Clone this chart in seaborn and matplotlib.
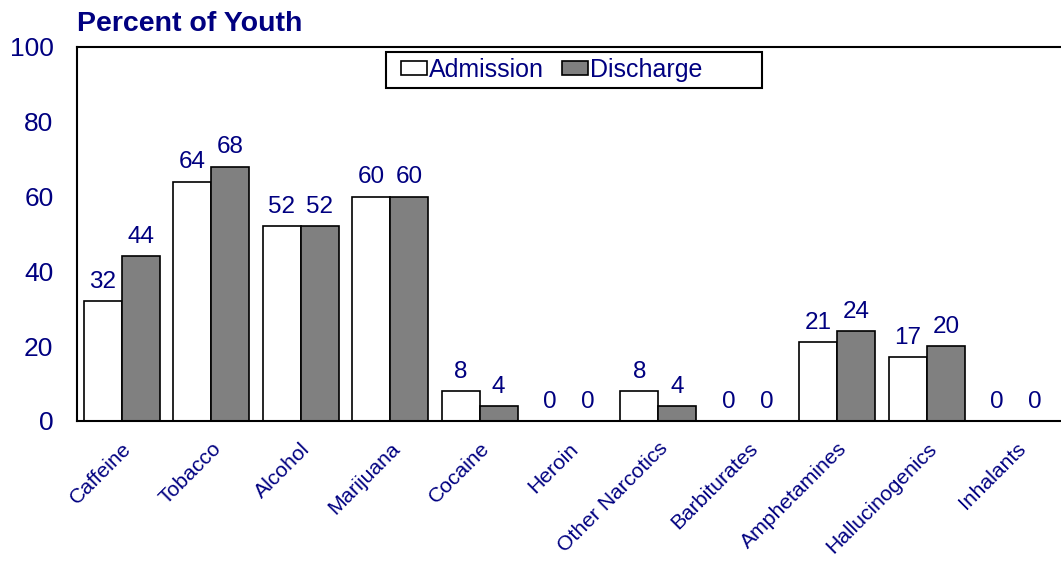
import matplotlib
matplotlib.use("Agg")
import matplotlib.pyplot as plt
from matplotlib.patches import Rectangle
import pandas as pd
import seaborn as sns

categories = ["Caffeine", "Tobacco", "Alcohol", "Marijuana", "Cocaine", "Heroin",
              "Other Narcotics", "Barbiturates", "Amphetamines", "Hallucinogenics", "Inhalants"]
admission = [32, 64, 52, 60, 8, 0, 8, 0, 21, 17, 0]
discharge = [44, 68, 52, 60, 4, 0, 4, 0, 24, 20, 0]
y_ticks = [0, 20, 40, 60, 80, 100]

navy = "#000080"

df = pd.DataFrame({
    "substance": categories * 2,
    "percent": admission + discharge,
    "when": ["Admission"] * len(categories) + ["Discharge"] * len(categories),
})

sns.set_style("white")
plt.rcParams["font.family"] = ["Liberation Sans", "DejaVu Sans"]

fig = plt.figure(figsize=(10.61, 5.61), dpi=100)
ax = fig.add_axes([0.0726, 0.2496, 0.9274, 0.6667])

sns.barplot(data=df, x="substance", y="percent", hue="when",
            palette=["white", "#808080"], width=0.85, gap=0,
            edgecolor="black", linewidth=1.2, saturation=1, ax=ax)

for c in ax.containers:
    ax.bar_label(c, fmt="%d", padding=6, color=navy, fontsize=17.5)

ax.set_ylim(0, 100)
ax.set_xlim(-0.5, len(categories) - 0.5)
ax.set_yticks(y_ticks)
ax.set_xlabel("")
ax.set_ylabel("")
ax.tick_params(axis="y", length=0, pad=17, labelsize=19, labelcolor=navy)
ax.tick_params(axis="x", length=0, pad=13, labelsize=15.2, labelcolor=navy)
plt.setp(ax.get_xticklabels(), rotation=45, ha="right", rotation_mode="anchor")

for side in ["left", "top", "bottom"]:
    ax.spines[side].set_visible(True)
    ax.spines[side].set_color("black")
    ax.spines[side].set_linewidth(1.5)
ax.spines["right"].set_visible(False)

# legend: text/handles without frame, box drawn separately (wider, like the original)
leg = ax.legend(loc="center left", bbox_to_anchor=(0.3165, 0.938), ncol=2, frameon=False,
                fontsize=18, handlelength=1.05, handleheight=0.5, borderpad=0,
                handletextpad=0.08, columnspacing=0.7, labelcolor=navy)
ax.add_patch(Rectangle((0.314, 0.89), 0.382, 0.0966, transform=ax.transAxes,
                       facecolor="none", edgecolor="black", linewidth=1.5, zorder=5))

fig.text(0.0726, 0.957, "Percent of Youth", fontsize=20.5, fontweight="bold",
         color=navy, ha="left", va="center")

fig.savefig("out.png", dpi=100)
